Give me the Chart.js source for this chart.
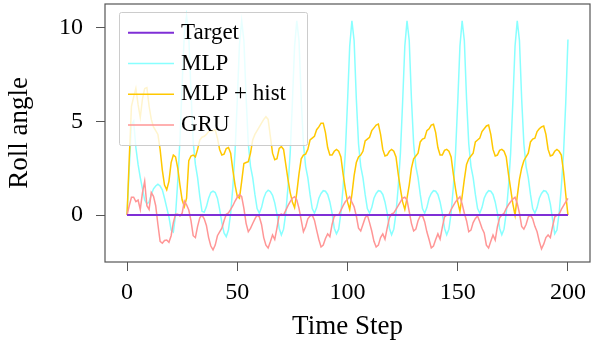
<!DOCTYPE html>
<html lang="en">
<head>
    <meta charset="UTF-8">
    <title>Roll angle</title>
    <script src="https://cdn.jsdelivr.net/npm/chart.js"></script>
    <style>
        html, body { margin: 0; padding: 0; background: #fff; }
        #wrap { width: 600px; height: 349px; }
    </style>
</head>
<body>
<div id="wrap"><canvas id="rollChart"></canvas></div>
<script>
    // time axis 0..200
    const timeSteps = Array.from({ length: 201 }, (_, i) => i);
    const xTicks = [0, 50, 100, 150, 200];
    const yTicks = [0, 5, 10];

    const target = [
        0, 0, 0, 0, 0, 0, 0, 0, 0, 0, 0, 0, 0, 0, 0, 0, 0, 0, 0, 0, 0, 0, 0, 0, 0,
        0, 0, 0, 0, 0, 0, 0, 0, 0, 0, 0, 0, 0, 0, 0, 0, 0, 0, 0, 0, 0, 0, 0, 0, 0,
        0, 0, 0, 0, 0, 0, 0, 0, 0, 0, 0, 0, 0, 0, 0, 0, 0, 0, 0, 0, 0, 0, 0, 0, 0,
        0, 0, 0, 0, 0, 0, 0, 0, 0, 0, 0, 0, 0, 0, 0, 0, 0, 0, 0, 0, 0, 0, 0, 0, 0,
        0, 0, 0, 0, 0, 0, 0, 0, 0, 0, 0, 0, 0, 0, 0, 0, 0, 0, 0, 0, 0, 0, 0, 0, 0,
        0, 0, 0, 0, 0, 0, 0, 0, 0, 0, 0, 0, 0, 0, 0, 0, 0, 0, 0, 0, 0, 0, 0, 0, 0,
        0, 0, 0, 0, 0, 0, 0, 0, 0, 0, 0, 0, 0, 0, 0, 0, 0, 0, 0, 0, 0, 0, 0, 0, 0,
        0, 0, 0, 0, 0, 0, 0, 0, 0, 0, 0, 0, 0, 0, 0, 0, 0, 0, 0, 0, 0, 0, 0, 0, 0,
        0
    ];

    const mlp = [
        0, 2.5, 4.8, 5.0, 3.6, 2.7, 2.0, 1.4, 0.8, 0.6,
        0.7, 1.1, 1.4, 1.55, 1.65, 1.55, 1.35, 0.9, 0.4, -0.1,
        -0.8, -0.9, 0.0, 1.8, 4.0, 7.0, 9.7, 10.6, 9.5, 6.6,
        3.9, 2.7, 2.0, 1.0, 0.2, 0.15, 0.45, 0.9, 1.2, 1.28,
        1.2, 0.9, 0.3, -0.4, -0.95, -1.15, -0.8, 0.1, 1.5, 3.4,
        6.1, 9.1, 10.35, 9.3, 6.3, 3.8, 2.6, 2.0, 1.1, 0.35,
        0.1, 0.4, 0.9, 1.2, 1.33, 1.25, 1.05, 0.65, 0.05, -0.7,
        -1.06, -0.75, 0.1, 1.5, 3.3, 6.0, 9.0, 10.35, 9.3, 6.2,
        3.8, 2.6, 2.0, 1.1, 0.35, 0.1, 0.4, 0.9, 1.15, 1.3,
        1.27, 1.1, 0.7, 0.1, -0.7, -1.0, -0.75, 0.1, 1.5, 3.3,
        6.0, 9.0, 10.35, 9.3, 6.2, 3.8, 2.6, 2.0, 1.1, 0.35,
        0.1, 0.4, 0.9, 1.15, 1.3, 1.27, 1.1, 0.7, 0.1, -0.7,
        -1.05, -0.75, 0.1, 1.5, 3.3, 6.0, 9.0, 10.35, 9.3, 6.2,
        3.8, 2.6, 2.0, 1.1, 0.35, 0.1, 0.4, 0.9, 1.15, 1.3,
        1.27, 1.1, 0.7, 0.1, -0.7, -1.05, -0.75, 0.1, 1.5, 3.3,
        6.0, 9.0, 10.35, 9.3, 6.2, 3.8, 2.6, 2.0, 1.1, 0.35,
        0.1, 0.4, 0.9, 1.15, 1.3, 1.27, 1.1, 0.7, 0.1, -0.7,
        -1.05, -0.75, 0.1, 1.5, 3.3, 6.0, 9.0, 10.35, 9.3, 6.2,
        3.8, 2.6, 2.0, 1.1, 0.35, 0.1, 0.4, 0.9, 1.15, 1.3,
        1.27, 1.1, 0.6, -0.2, -1.0, -0.8, 0.1, 1.5, 3.3, 6.0,
        9.36
    ];

    const mlpHist = [
        0, 3.0, 5.8, 6.3, 6.75, 5.9, 5.2, 6.2, 6.75, 6.8,
        5.8, 5.1, 4.7, 4.5, 4.3, 3.5, 2.4, 1.6, 1.35, 1.8,
        2.8, 3.2, 3.1, 2.5, 1.6, 0.8, 0.45, 0.9, 2.9, 3.15,
        3.2, 3.1, 3.5, 4.0, 4.15, 4.2, 4.3, 4.45, 4.5, 4.5,
        4.55, 4.1, 3.5, 3.2, 3.25, 3.55, 3.6, 3.3, 2.4, 1.6,
        1.0, 0.9, 1.8, 2.75, 2.8, 2.85, 3.3, 4.0, 4.3, 4.5,
        4.7, 4.9, 5.1, 5.24, 5.1, 4.2, 3.3, 2.95, 3.0, 3.55,
        3.65, 3.5, 2.7, 1.9, 1.2, 0.7, 0.4, 1.2, 2.2, 3.0,
        3.2, 3.25, 3.5, 4.0, 4.1, 4.2, 4.55, 4.7, 4.9, 4.9,
        4.4, 3.6, 3.2, 3.2, 3.4, 3.5, 3.4, 3.1, 2.2, 1.4,
        0.7, 0.3, 1.1, 2.1, 2.8, 3.1, 3.2, 3.4, 3.95, 4.05,
        4.15, 4.5, 4.65, 4.8, 4.85, 4.3, 3.5, 3.15, 3.2, 3.4,
        3.5, 3.4, 3.1, 2.2, 1.4, 0.7, 0.3, 0.9, 1.6, 2.5,
        3.0, 3.15, 3.3, 3.9, 4.05, 4.1, 4.5, 4.6, 4.8, 4.84,
        4.4, 3.6, 3.2, 3.2, 3.45, 3.5, 3.4, 3.1, 2.2, 1.4,
        0.7, 0.2, 1.0, 1.9, 2.7, 3.0, 3.15, 3.3, 3.9, 4.0,
        4.1, 4.45, 4.6, 4.75, 4.8, 4.3, 3.5, 3.15, 3.2, 3.45,
        3.5, 3.4, 3.1, 2.2, 1.4, 0.6, 0.0, 1.0, 1.9, 2.5,
        2.9, 3.1, 3.3, 3.9, 4.05, 4.1, 4.45, 4.6, 4.7, 4.75,
        4.3, 3.5, 3.15, 3.2, 3.4, 3.5, 3.4, 3.2, 2.3, 1.1,
        0.0
    ];

    const gru = [
        0, 0.5, 0.95, 0.95, 0.72, 0.8, 0.3, 1.2, 1.8, 0.5,
        0.3, 1.2, 1.0, 0.5, -0.5, -1.4, -1.5, -1.35, -1.33, -1.45,
        -1.1, -0.4, 0.05, 0.05, -0.05, 0.1, 0.75, 0.55, 0.27, -0.3,
        -1.1, -1.2, -0.6, -0.15, 0.0, -0.2, -0.55, -1.2, -1.65, -1.85,
        -1.6, -1.1, -0.9, -0.7, -0.3, 0.05, 0.12, 0.3, 0.5, 0.75,
        0.95, 1.1, 0.98, 0.36, -0.44, -0.89, -0.71, -0.45, -0.2, 0.0,
        -0.09, -0.5, -1.2, -1.6, -1.75, -1.42, -1.06, -1.3, -0.7, 0.0,
        0.05, 0.0, 0.25, 0.5, 0.72, 0.9, 0.98, 0.8, 0.36, -0.27,
        -0.89, -0.62, -0.2, -0.05, 0.0, -0.27, -0.8, -1.3, -1.7, -1.6,
        -1.25, -1.0, -1.15, -0.5, -0.05, 0.0, 0.0, 0.25, 0.5, 0.71,
        0.85, 0.98, 0.7, 0.44, -0.05, -0.7, -0.85, -0.5, -0.15, 0.0,
        -0.4, -0.85, -1.4, -1.7, -1.6, -1.2, -1.0, -1.28, -0.7, -0.15,
        0.05, 0.12, 0.3, 0.5, 0.7, 0.9, 0.95, 0.8, 0.18, -0.44,
        -0.85, -0.75, -0.3, -0.05, -0.03, -0.35, -0.89, -1.3, -1.75, -1.65,
        -1.3, -1.0, -1.28, -0.65, -0.1, 0.0, 0.02, 0.3, 0.5, 0.7,
        0.85, 0.98, 0.6, 0.1, -0.3, -0.89, -0.8, -0.4, -0.18, -0.05,
        -0.35, -0.7, -0.95, -1.6, -1.75, -1.4, -1.06, -1.33, -0.62, -0.15,
        0.0, 0.09, 0.35, 0.55, 0.71, 0.85, 0.95, 0.62, 0.1, -0.6,
        -0.75, -0.5, -0.1, 0.0, -0.2, -0.6, -0.89, -1.4, -1.8, -1.55,
        -1.2, -1.06, -1.2, -0.62, -0.1, 0.0, 0.05, 0.3, 0.5, 0.7,
        0.89
    ];

    const serif = '"Liberation Serif", "DejaVu Serif", serif';

    // legend box drawn inside the plot, semi-transparent like the original
    const legendBox = {
        id: 'legendBox',
        afterDatasetsDraw(chart) {
            const ctx = chart.ctx;
            const x0 = 119.5, y0 = 12.5, w = 188, h = 133;
            ctx.save();
            ctx.fillStyle = 'rgba(255,255,255,0.8)';
            ctx.strokeStyle = '#cccccc';
            ctx.lineWidth = 1;
            ctx.beginPath();
            ctx.roundRect(x0, y0, w, h, 2);
            ctx.fill();
            ctx.stroke();
            ctx.font = '23px ' + serif;
            ctx.textBaseline = 'middle';
            ctx.fillStyle = '#000';
            chart.data.datasets.forEach((ds, i) => {
                const y = 32.7 + i * 30.8;
                ctx.strokeStyle = ds.borderColor;
                ctx.lineWidth = ds.borderWidth;
                ctx.beginPath();
                ctx.moveTo(128, y);
                ctx.lineTo(174, y);
                ctx.stroke();
                ctx.fillText(ds.label, 181, y);
            });
            ctx.restore();
        }
    };

    // full box around the plot area
    const frame = {
        id: 'frame',
        afterDraw(chart) {
            const a = chart.chartArea;
            const ctx = chart.ctx;
            ctx.save();
            ctx.strokeStyle = '#555555';
            ctx.lineWidth = 1.2;
            ctx.strokeRect(a.left, a.top, a.right - a.left, a.bottom - a.top);
            ctx.restore();
        }
    };

    const ctx = document.getElementById('rollChart').getContext('2d');
    new Chart(ctx, {
        type: 'line',
        data: {
            labels: timeSteps,
            datasets: [
                { label: 'Target', data: target, borderColor: '#7f2fd6', borderWidth: 2, order: 0 },
                { label: 'MLP', data: mlp, borderColor: '#88ffff', borderWidth: 1.5, order: 3 },
                { label: 'MLP + hist', data: mlpHist, borderColor: '#ffc800', borderWidth: 1.5, order: 2 },
                { label: 'GRU', data: gru, borderColor: '#ff9696', borderWidth: 1.5, order: 1 }
            ]
        },
        options: {
            responsive: true,
            maintainAspectRatio: false,
            animation: false,
            devicePixelRatio: 1,
            elements: {
                point: { radius: 0 },
                line: { tension: 0, fill: false }
            },
            layout: { padding: { top: 4, right: 10, left: 0, bottom: 0 } },
            scales: {
                x: {
                    type: 'linear',
                    min: -10,
                    max: 210,
                    afterBuildTicks: s => { s.ticks = xTicks.map(v => ({ value: v })); },
                    afterFit: s => { s.height = 87; s.paddingLeft = 0; s.paddingRight = 0; },
                    grid: { drawOnChartArea: false, tickLength: 9, tickColor: '#555555' },
                    border: { display: false },
                    ticks: { color: '#000', padding: 7, maxRotation: 0, font: { family: serif, size: 24 } },
                    title: {
                        display: true,
                        text: 'Time Step',
                        color: '#000',
                        font: { family: serif, size: 27, lineHeight: 1.15 },
                        padding: { top: 0, bottom: 6.5 }
                    }
                },
                y: {
                    min: -2.5,
                    max: 11.25,
                    afterBuildTicks: s => { s.ticks = yTicks.map(v => ({ value: v })); },
                    afterFit: s => { s.width = 105; s.paddingTop = 0; s.paddingBottom = 0; },
                    grid: { drawOnChartArea: false, tickLength: 9, tickColor: '#555555' },
                    border: { display: false },
                    ticks: { color: '#000', padding: 13, font: { family: serif, size: 24 } },
                    title: {
                        display: true,
                        text: 'Roll angle',
                        color: '#000',
                        font: { family: serif, size: 27, lineHeight: 1.15 },
                        padding: { top: 4, bottom: 0 }
                    }
                }
            },
            plugins: {
                legend: { display: false },
                tooltip: { enabled: false }
            }
        },
        plugins: [legendBox, frame]
    });
</script>
</body>
</html>
